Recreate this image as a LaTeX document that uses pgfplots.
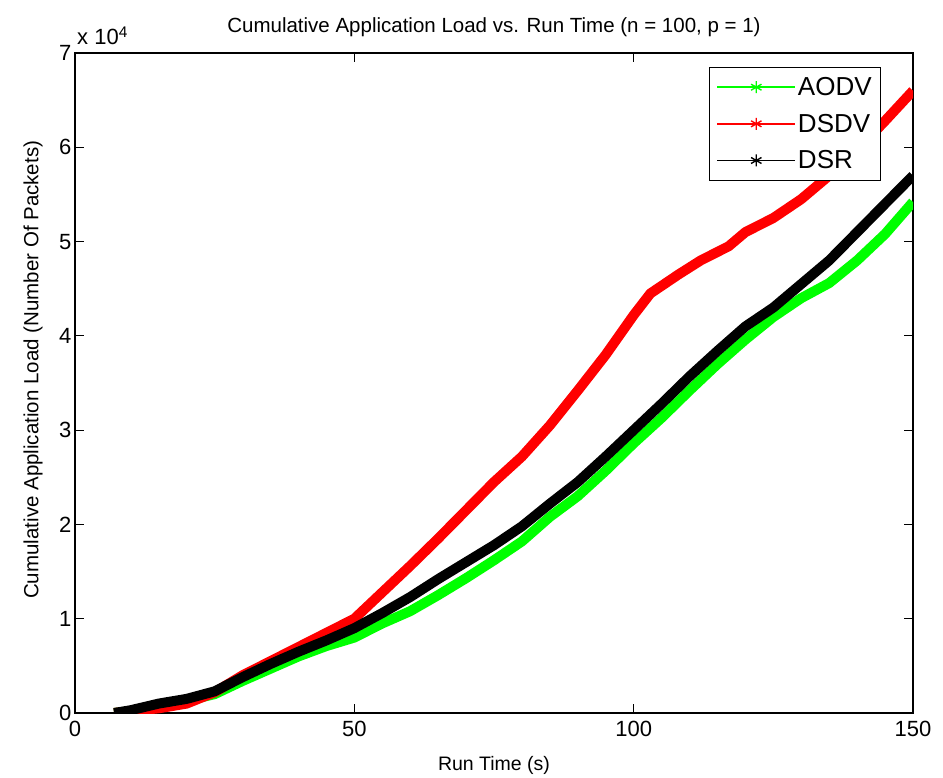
\documentclass[border=0pt]{standalone}
\usepackage{pgfplots}
\pgfplotsset{compat=1.18}
\usepackage{fontspec}
\setmainfont{Liberation Sans}
\definecolor{mgreen}{RGB}{0,255,0}
\definecolor{mred}{RGB}{255,0,0}
\begin{document}
\begin{tikzpicture}
\useasboundingbox (-75pt,-64pt) rectangle (868pt,713pt);
\begin{axis}[
 at={(0pt,0pt)}, anchor=south west,
 scale only axis, width=838pt, height=660pt,
 xmin=0, xmax=150, ymin=0, ymax=7,
 xtick={0,50,100,150}, ytick={0,1,2,3,4,5,6,7},
 tick align=inside, major tick length=9pt,
 tick style={black, line width=1pt},
 axis line style={line width=1.2pt},
 ticklabel style={font=\fontsize{22}{24}\selectfont},
 xticklabel style={yshift=-5pt},
 /pgf/number format/assume math mode=true,
 xlabel={Run Time (s)},
 ylabel={Cumulative Application Load (Number Of Packets)},
 xlabel style={font=\fontsize{19.5}{21}\selectfont, at={(axis description cs:0.5,0)}, yshift=-52pt, anchor=center},
 ylabel style={font=\fontsize{20.5}{22}\selectfont, at={(axis description cs:-0.0501,0.52)}, anchor=center},
 title={Cumulative Application Load vs. Run Time (n = 100, p = 1)},
 title style={font=\fontsize{20.5}{22}\selectfont, at={(axis description cs:0.5,1)}, yshift=20pt, anchor=center},
 legend style={at={(0.962,0.979)}, anchor=north east, draw=black, line width=1pt,
   font=\fontsize{26}{28}\selectfont, row sep=13pt, inner xsep=7pt, inner ysep=8pt},
 legend cell align=left,
 legend image code/.code={
   \draw[#1, line width=1.4pt] (0pt,0pt) -- (78pt,0pt);
   \draw[#1, line width=1.4pt, only marks, mark=asterisk, mark size=6pt] plot coordinates {(39pt,0pt)};
 },
]
\addplot[mgreen, line width=10pt, line join=round] coordinates {
(7,0) (10,0.02) (15,0.08) (20,0.13) (25,0.2) (30,0.34) (35,0.47) (40,0.6) (45,0.71) (50,0.8)
(55,0.95) (60,1.08) (65,1.25) (70,1.43) (75,1.62) (80,1.82) (85,2.08) (90,2.3) (95,2.57) (100,2.86)
(105,3.13) (110,3.42) (115,3.7) (120,3.96) (125,4.2) (130,4.4) (135,4.56) (140,4.8) (145,5.08) (150,5.42)
};
\addlegendentry{AODV}
\addplot[mred, line width=10pt, line join=round] coordinates {
(7,0) (15,0.05) (20,0.1) (25,0.22) (30,0.4) (35,0.55) (40,0.7) (45,0.85) (50,1.0)
(55,1.28) (60,1.56) (65,1.85) (70,2.15) (75,2.45) (80,2.72) (85,3.05) (90,3.42) (95,3.8) (100,4.22)
(103,4.45) (108,4.65) (112,4.8) (117,4.95) (120,5.1) (125,5.25) (130,5.45) (135,5.7) (140,5.97) (145,6.28) (150,6.6)
};
\addlegendentry{DSDV}
\addplot[black, line width=10pt, line join=round] coordinates {
(7,0) (10,0.03) (15,0.1) (20,0.15) (25,0.23) (30,0.38) (35,0.52) (40,0.65) (45,0.77) (50,0.9)
(55,1.06) (60,1.23) (65,1.42) (70,1.6) (75,1.78) (80,1.98) (85,2.22) (90,2.45) (95,2.72) (100,3.0)
(105,3.28) (110,3.57) (115,3.84) (120,4.1) (125,4.3) (130,4.55) (135,4.8) (140,5.1) (145,5.4) (150,5.7)
};
\addlegendentry{DSR}
\end{axis}
\node[anchor=south west, font=\fontsize{22}{24}\selectfont, inner sep=0pt] at (2pt,668pt) {x 10\textsuperscript{4}};
\end{tikzpicture}
\end{document}
